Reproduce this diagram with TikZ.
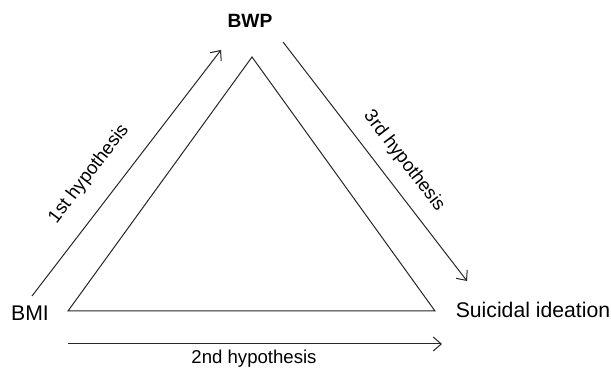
\documentclass[tikz,border=0pt]{standalone}
\usepackage{fontspec}
\setmainfont{Liberation Sans}
\usetikzlibrary{positioning,arrows.meta}

\begin{document}
\begin{tikzpicture}[x=0.5pt, y=0.5pt,
    var/.style={inner sep=0pt, font=\fontsize{10.6}{12}\selectfont},
    hyp/.style={inner sep=0pt, font=\fontsize{9.3}{11}\selectfont},
    edge/.style={line width=0.5pt, color=black!85},
    arrow/.style={edge, -{Straight Barb[length=4pt, width=7pt]}}]

    \useasboundingbox (0,0) rectangle (611,373);

    % Variables
    \node[var, font=\fontsize{9.6}{12}\selectfont\bfseries] (bwp) at (250,352) {BWP};
    \node[var] (bmi) at (30,60) {BMI};
    \node[var] (ideation) at (533,63) {Suicidal ideation};

    % Triangle
    \coordinate (top) at (252,316);
    \coordinate (left) at (68,62);
    \coordinate (right) at (435,62);
    \draw[edge, line join=miter] (top) -- (left) -- (right) -- cycle;

    % Hypotheses
    \coordinate (h1s) at (32,77);
    \coordinate (h1e) at (221,323);
    \coordinate (h2s) at (68,29);
    \coordinate (h2e) at (442,29);
    \coordinate (h3s) at (283,331);
    \coordinate (h3e) at (467,92);
    \draw[arrow] (h1s) -- (h1e);
    \draw[arrow] (h2s) -- (h2e);
    \draw[arrow] (h3s) -- (h3e);

    \node[hyp, rotate=52.5] (lab1) at (89,199) {1st hypothesis};
    \node[hyp] (lab2) at (254,14) {2nd hypothesis};
    \node[hyp, rotate=-52.5] (lab3) at (404,212) {3rd hypothesis};
\end{tikzpicture}
\end{document}
